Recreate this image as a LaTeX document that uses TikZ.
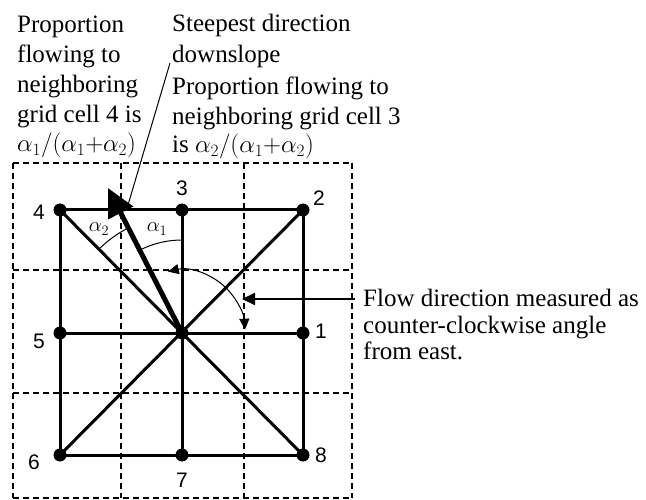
\documentclass[tikz,border=0pt]{standalone}
\usepackage{fontspec}
\setmainfont{Liberation Serif}
\newfontfamily\numfont{Liberation Sans}
\usetikzlibrary{arrows.meta}
\begin{document}
\begin{tikzpicture}[x=1pt,y=-1pt,
  gridline/.style={line width=1.4pt, dash pattern=on 6pt off 4pt},
  edge/.style={line width=3pt},
  dot/.style={circle, fill=black, inner sep=0pt, minimum size=13pt},
  lbl/.style={font=\numfont\fontsize{21}{21}\selectfont, inner sep=0pt},
  txt/.style={font=\fontsize{25}{30}\selectfont, inner sep=0pt, anchor=base west},
  alab/.style={font=\fontsize{22}{22}\selectfont, inner sep=0pt},
  thinline/.style={line width=1pt},
]
\useasboundingbox (0,0) rectangle (646,500);
\fill[white] (0,0) rectangle (646,500);

% dashed cell grid
\foreach \x in {13,121,244,352} \draw[gridline] (\x,163) -- (\x,498);
\foreach \y in {163,270,393,498} \draw[gridline] (13,\y) -- (352,\y);

% grid points
\node[dot] (n1) at (303,333) {};
\node[dot] (n2) at (303,210) {};
\node[dot] (n3) at (182,210) {};
\node[dot] (n4) at (60,210) {};
\node[dot] (n5) at (60,333) {};
\node[dot] (n6) at (60,455) {};
\node[dot] (n7) at (182,455) {};
\node[dot] (n8) at (303,455) {};
\node[dot] (c) at (182,333) {};

% solid connections
\draw[edge] (n4.center) -- (n3.center) -- (n2.center) -- (n1.center) -- (n8.center) -- (n7.center) -- (n6.center) -- (n5.center) -- (n4.center);
\draw[edge] (n5.center) -- (n1.center);
\draw[edge] (n3.center) -- (n7.center);
\draw[edge] (n4.center) -- (n8.center);
\draw[edge] (n2.center) -- (n6.center);

% steepest direction arrow
\coordinate (tip) at (108,188);
\draw[line width=5pt, -{Triangle[length=28pt,width=27pt]}] (c.center) -- (tip);

% angle arcs
\draw[thinline] (c.center) ++(90:93pt) arc[start angle=90, end angle=116, radius=93pt];
\draw[thinline] (c.center) ++(117:118pt) arc[start angle=117, end angle=134, radius=118pt];
\node[alab] (a1) at (157,229) {$\alpha_1$};
\node[alab] (a2) at (99,229) {$\alpha_2$};

% flow direction arc
\draw[thinline, {Triangle[length=11pt,width=10pt]}-{Triangle[length=11pt,width=10pt]}]
  (c.center) ++(103:63pt) arc[start angle=103, end angle=3, radius=63pt];

% labels of neighbours
\node[lbl] (l1) at (321,331) {1};
\node[lbl] (l2) at (319,198) {2};
\node[lbl] (l3) at (182,188) {3};
\node[lbl] (l4) at (39,212) {4};
\node[lbl] (l5) at (39,341) {5};
\node[lbl] (l6) at (34,462) {6};
\node[lbl] (l7) at (182,480) {7};
\node[lbl] (l8) at (321,455) {8};

% text blocks
\node[txt] (tl1) at (17,33) {Proportion};
\node[txt] (tl2) at (17,63) {flowing to};
\node[txt] (tl3) at (17,93) {neighboring};
\node[txt] (tl4) at (17,123) {grid cell 4 is};
\node[txt] (tl5) at (17,152) {$\alpha_1/(\alpha_1{+}\alpha_2)$};

\node[txt] (sd1) at (172,32) {Steepest direction};
\node[txt] (sd2) at (172,63) {downslope};

\node[txt] (p31) at (172,95) {Proportion flowing to};
\node[txt] (p32) at (172,125) {neighboring grid cell 3};
\node[txt] (p33) at (172,153) {is $\alpha_2/(\alpha_1{+}\alpha_2)$};

\node[txt] (fl1) at (363,306) {Flow direction measured as};
\node[txt] (fl2) at (363,333) {counter-clockwise angle};
\node[txt] (fl3) at (363,359) {from east.};

% pointers
\coordinate (sdstart) at (170,63);
\coordinate (sdend) at (128,205);
\draw[thinline] (sdstart) -- (sdend);
\coordinate (flstart) at (355,299);
\coordinate (flend) at (242,299);
\draw[line width=2pt, -{Triangle[length=13pt,width=12pt]}] (flstart) -- (flend);
\end{tikzpicture}
\end{document}
